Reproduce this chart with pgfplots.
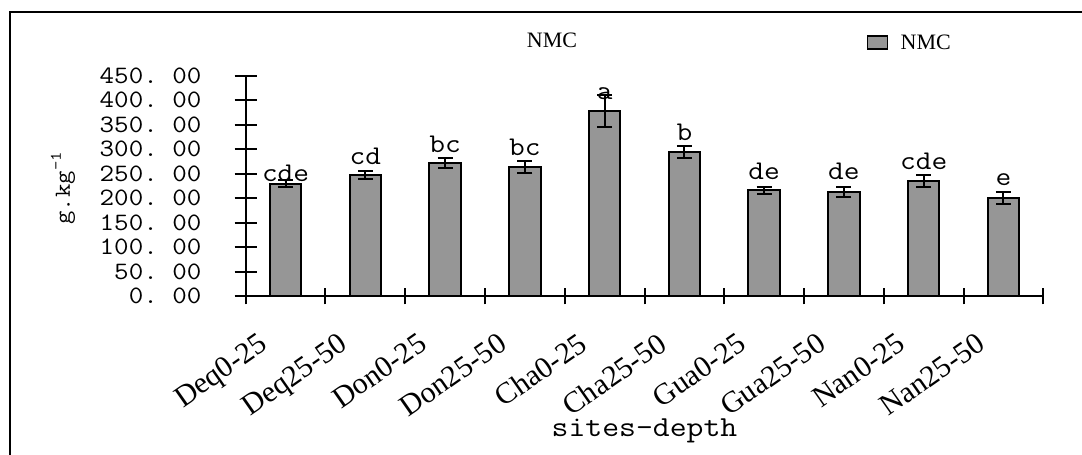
\documentclass[border=0pt]{standalone}
\usepackage{pgfplots}
\pgfplotsset{compat=1.18}
\usepackage{pgfplotstable}
\usepackage{fontspec}
\setmainfont{Liberation Serif}
\newfontfamily\mono[FakeStretch=1.13]{Latin Modern Mono}
\definecolor{barfill}{HTML}{969696}
\pgfplotstableread{
x y e ly lab
1 229.5 7 233.5 cde
2 248 8.5 269.8 cd
3 272.5 10.5 293 bc
4 263.7 12 287.6 bc
5 378.5 32 400.9 a
6 294.4 12 317.5 b
7 216.5 7.5 238.4 de
8 213 11 238.4 de
9 235 12.6 258.9 cde
10 200.8 12 226.7 e
}\datatable
\begin{document}
\frenchspacing
\begin{tikzpicture}[x=1pt,y=1pt]
\useasboundingbox (0,0) rectangle (1082,455);
\draw[line width=2pt] (10,0) -- (10,443) -- (1082,443);
\node[font=\fontsize{22}{22}\selectfont] at (552,415) {NMC};
\node[font=\mono\fontsize{29}{29}\selectfont, anchor=base] at (644.5,18) {sites-depth};
\node[rotate=90, font=\mono\fontsize{23}{23}\selectfont] at (63,267) {g.kg\textsuperscript{-1}};
\begin{axis}[
  at={(245.7pt,158.7pt)}, anchor=south west,
  width=797.6pt, height=220.5pt, scale only axis,
  xmin=0.5, xmax=10.5, ymin=0, ymax=450,
  axis x line*=bottom, axis y line*=left,
  axis line style={line width=2pt, -},
  xtick={1,...,10},
  xticklabels={Deq0-25,Deq25-50,Don0-25,Don25-50,Cha0-25,Cha25-50,Gua0-25,Gua25-50,Nan0-25,Nan25-50},
  minor xtick={0.5,1.5,...,10.5},
  ytick={0,50,...,450},
  yticklabels={0. 00,50. 00,100. 00,150. 00,200. 00,250. 00,300. 00,350. 00,400. 00,450. 00},
  tick align=center, major tick length=22pt, minor tick length=16pt,
  tick style={line width=2pt, black},
  major x tick style={draw=none},
  yticklabel style={font=\mono\fontsize{25}{25}\selectfont, anchor=east, inner sep=0pt, xshift=-33pt},
  xticklabel style={font=\fontsize{30}{30}\selectfont, rotate=35, anchor=north east, inner sep=0pt, xshift=-36.7pt, yshift=-3.7pt},
  clip=false,
  legend style={at={(0.7786,1.151)}, anchor=west, draw=none, fill=none, inner sep=0pt,
    font=\fontsize{22}{22}\selectfont},
  legend image code/.code={\draw[fill=barfill, draw=black, line width=1.5pt] (0pt,-6.5pt) rectangle (20pt,6.5pt); \path (30pt,0pt);},
]
\addplot[ybar, bar width=31.6pt, fill=barfill, draw=black, line width=2pt,
  error bars/.cd, y dir=both, y explicit,
  error bar style={line width=2pt, black},
  error mark options={rotate=90, mark size=7.5pt, line width=2pt, black}]
  table[x=x, y=y, y error=e] {\datatable};
\addlegendentry{NMC}
\addplot[forget plot, only marks, mark=none, nodes near coords, point meta=explicit symbolic,
  nodes near coords style={anchor=base, font=\mono\fontsize{27}{27}\selectfont, inner sep=0pt}]
  table[x=x, y=ly, meta=lab] {\datatable};
\end{axis}
\end{tikzpicture}
\end{document}
